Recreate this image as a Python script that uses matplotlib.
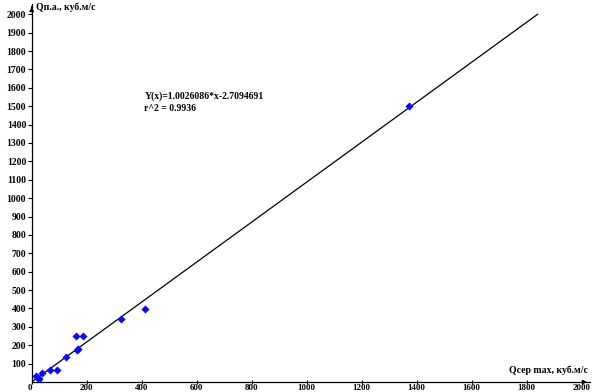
import matplotlib
matplotlib.use("Agg")
import matplotlib.pyplot as plt
import numpy as np

plt.rcParams['font.family'] = ['Liberation Serif', 'DejaVu Serif']

# measured points (Qсер max, Qп.а.)
q_mean_max = [16, 28, 22, 38, 66, 93, 125, 165, 168, 163, 185, 325, 412, 1373]
q_flood = [32, 16, 22, 50, 65, 65, 134, 174, 180, 250, 250, 342, 397, 1500]

# regression line as drawn
fit_x = [0, 1840]
fit_y = [0, 2000]

x_ticks = list(range(0, 2001, 200))
y_ticks = list(range(100, 2001, 100))

eq_text = "Y(x)=1.0026086*x-2.7094691"
r2_text = "r^2 = 0.9936"

fig = plt.figure(figsize=(5.92, 3.92), dpi=100)
ax = fig.add_axes([0.0535, 0.0255, 0.943, 0.964])

ax.plot(fit_x, fit_y, color='black', lw=0.9)
ax.scatter(q_mean_max, q_flood, marker='D', s=17, color='#0a0aff', zorder=3, linewidths=0)

ax.set_xlim(0, 2030)
ax.set_ylim(0, 2055)
ax.set_xticks(x_ticks)
ax.set_yticks(y_ticks)
ax.set_xticklabels([str(v) for v in x_ticks], fontsize=6.5, fontweight='bold')
ax.set_yticklabels([str(v) for v in y_ticks], fontsize=7, fontweight='bold')
ax.get_xticklabels()[0].set_horizontalalignment('right')
ax.tick_params(axis='x', direction='inout', length=3, width=0.8, pad=0)
ax.tick_params(axis='y', direction='out', length=3, width=0.8, pad=1)

for s in ['top', 'right']:
    ax.spines[s].set_visible(False)
for s in ['left', 'bottom']:
    ax.spines[s].set_linewidth(0.9)

# arrow heads at axis ends
ax.annotate('', xy=(1.0, 0), xytext=(0.985, 0), xycoords='axes fraction',
            arrowprops=dict(arrowstyle='-|>', color='black', lw=0.9, mutation_scale=6))
ax.annotate('', xy=(0, 1.0), xytext=(0, 0.985), xycoords='axes fraction',
            arrowprops=dict(arrowstyle='-|>', color='black', lw=0.9, mutation_scale=6))

ax.text(0.008, 0.993, "Qп.а., куб.м/с", transform=ax.transAxes, fontsize=7,
        fontweight='bold', ha='left', va='center')
ax.text(0.997, 0.03, "Qсер max, куб.м/с", transform=ax.transAxes, fontsize=7,
        fontweight='bold', ha='right', va='center')

ax.text(410, 1555, eq_text, fontsize=7, fontweight='bold', ha='left', va='center')
ax.text(410, 1490, r2_text, fontsize=7, fontweight='bold', ha='left', va='center')

plt.savefig("out.png", dpi=100)
